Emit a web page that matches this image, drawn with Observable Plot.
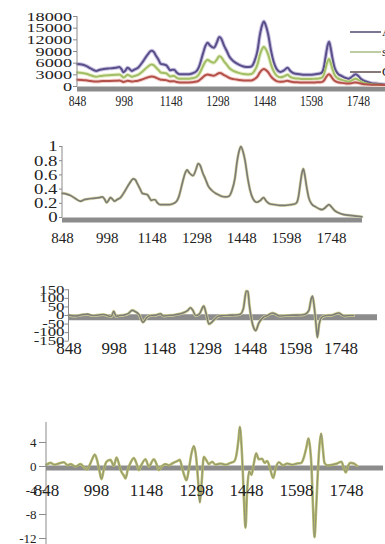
<!DOCTYPE html>
<html><head><meta charset="utf-8">
<script src="https://cdn.jsdelivr.net/npm/d3@7"></script>
<script src="https://cdn.jsdelivr.net/npm/@observablehq/plot@0.6"></script>
<style>
html,body{margin:0;padding:0;background:#fff;}
#chart{position:relative;width:385px;height:544px;overflow:hidden;background:#fff;}
#chart svg{position:absolute;left:0;}
</style></head><body><div id="chart"></div>
<script>
// ---- data ----
const wavenumber = [848,862,875,890,908,920,932,950,970,982,990,995,1002,1008,1015,1022,1030,1042,1058,1072,1085,1092,1098,1108,1115,1125,1132,1140,1145,1152,1158,1165,1175,1190,1205,1215,1230,1237,1250,1258,1265,1272,1285,1295,1302,1308,1318,1326,1335,1348,1365,1380,1395,1405,1415,1425,1432,1440,1445,1452,1459,1468,1476,1486,1498,1510,1521,1530,1543,1560,1575,1593,1610,1625,1632,1638,1643,1650,1654,1658,1665,1672,1682,1695,1708,1716,1725,1735,1740,1748,1758,1770,1790,1810,1830,1850];
const seriesA = [5810,5650,5320,4660,4000,4330,4490,4660,4820,4990,4330,3670,4160,4820,4490,4000,4330,4820,6470,8120,9190,8950,8120,6800,5810,5650,5480,4660,4160,4330,4330,3670,3170,3170,3170,3340,4000,4990,8450,10430,11260,10600,9940,11420,12740,12410,10430,9190,7630,6470,5650,5150,4990,5150,6470,9280,13070,15880,16700,15550,13400,9280,6470,4490,3750,4160,4820,4000,3340,3170,3010,3010,3170,3340,3670,5150,7630,10760,11500,10430,7300,4820,3340,2680,2180,2020,2350,3010,3170,2680,1850,1360,860,700,530,370];
const seriesB = [3600,3500,3300,2900,2500,2700,2800,2900,3000,3100,2700,2300,2600,3000,2800,2500,2700,3000,4000,5000,5650,5500,5000,4200,3600,3500,3400,2900,2600,2700,2700,2300,2000,2000,2000,2100,2500,3100,5200,6400,6900,6500,6100,7000,7800,7600,6400,5650,4700,4000,3500,3200,3100,3200,4000,5700,8000,9700,10200,9500,8200,5700,4000,2800,2350,2600,3000,2500,2100,2000,1900,1900,2000,2100,2300,3200,4700,6600,7050,6400,4500,3000,2100,1700,1400,1300,1500,1900,2000,1700,1200,900,600,500,400,300];
const seriesC = [1730,1690,1600,1430,1270,1350,1390,1430,1480,1520,1350,1180,1310,1480,1390,1270,1350,1480,1900,2320,2590,2530,2320,1980,1730,1690,1640,1430,1310,1350,1350,1180,1060,1060,1060,1100,1270,1520,2400,2900,3110,2950,2780,3160,3490,3410,2900,2590,2190,1900,1690,1560,1520,1560,1900,2610,3580,4290,4500,4210,3660,2610,1900,1390,1200,1310,1480,1270,1100,1060,1010,1010,1060,1100,1180,1560,2190,2990,3180,2900,2110,1480,1100,930,800,760,850,1010,1060,930,720,590,470,430,380,340];
const normalized = [0.34,0.33,0.31,0.27,0.23,0.25,0.26,0.27,0.28,0.29,0.25,0.21,0.24,0.28,0.26,0.23,0.25,0.28,0.38,0.48,0.545,0.53,0.48,0.40,0.34,0.33,0.32,0.27,0.24,0.25,0.25,0.21,0.18,0.18,0.18,0.19,0.23,0.29,0.50,0.62,0.67,0.63,0.59,0.68,0.76,0.74,0.62,0.545,0.45,0.38,0.33,0.30,0.29,0.30,0.38,0.55,0.78,0.95,1.00,0.93,0.80,0.55,0.38,0.26,0.215,0.24,0.28,0.23,0.19,0.18,0.17,0.17,0.18,0.19,0.21,0.30,0.45,0.64,0.685,0.62,0.43,0.28,0.19,0.15,0.12,0.11,0.13,0.17,0.18,0.15,0.10,0.07,0.04,0.03,0.02,0.01];
const d1Wavenumber = [848,870,890,909,925,945,962,975,988,996,1004,1015,1030,1045,1057,1068,1080,1093,1105,1118,1135,1151,1160,1175,1195,1210,1225,1240,1250,1258,1267,1280,1294,1302,1311,1320,1330,1342,1360,1380,1400,1415,1425,1435,1440,1445,1452,1460,1466,1476,1490,1505,1521,1532,1545,1565,1590,1615,1630,1642,1650,1654,1660,1666,1670,1676,1685,1700,1720,1741,1750,1760,1775,1790];
const firstDerivative = [2,-3,4,8,0,3,6,0,-6,25,-5,0,3,12,30,22,5,-40,-12,0,2,10,-3,0,3,8,15,28,45,30,0,10,55,10,-50,-40,-22,-5,0,2,3,8,40,143,140,60,-23,-75,-88,-45,-12,0,15,8,-3,0,2,3,8,30,100,113,45,-60,-128,-50,-10,0,3,15,5,-3,0,0];
const d2Wavenumber = [848,860,872,885,900,912,920,935,950,962,970,978,985,993,1000,1006,1013,1020,1028,1040,1050,1058,1066,1072,1080,1085,1092,1100,1110,1118,1125,1133,1145,1155,1170,1178,1185,1193,1205,1215,1225,1240,1248,1255,1262,1268,1275,1283,1290,1297,1303,1308,1313,1320,1328,1335,1345,1355,1370,1385,1400,1410,1418,1424,1428,1433,1437,1441,1445,1450,1456,1463,1470,1477,1485,1495,1502,1510,1518,1528,1536,1545,1558,1570,1585,1600,1612,1620,1627,1634,1639,1643,1647,1652,1657,1662,1667,1672,1677,1682,1690,1705,1720,1733,1740,1746,1752,1760,1770,1780];
const secondDerivative = [0.3,0.6,0.3,0.5,0.7,0.2,0.4,0.0,0.4,-0.2,-0.5,0.3,1.2,2.0,1.0,-0.5,-2.1,-0.5,0.8,1.1,0.1,1.5,0.3,-0.8,-1.5,-2.0,-0.5,0.6,1.4,0.5,-0.6,0.3,1.2,0.0,1.2,0.4,-0.6,0.0,0.4,0.2,0.5,0.9,1.1,-0.3,-1.6,-2.3,-0.5,2.2,3.4,1.5,-2.5,-6.0,-3.0,1.6,1.0,0.4,0.8,0.3,0.5,0.3,0.6,0.8,2.0,4.5,6.6,3.5,-1.0,-6.5,-10.2,-4.0,-0.8,-1.4,0.5,2.2,1.2,1.3,0.6,0.9,-0.2,-1.9,-0.2,0.7,0.2,0.5,0.3,0.5,0.6,1.5,3.0,4.7,3.0,0.0,-6.0,-11.8,-7.0,-1.0,3.5,5.5,3.0,0.6,0.2,0.3,0.5,0.8,-0.3,-1.0,0.0,0.6,0.5,0.1];
const xTicks = [848, 998, 1148, 1298, 1448, 1598, 1748];
const yTicks1 = [0, 3000, 6000, 9000, 12000, 15000, 18000];
const yTicks2 = [0, 0.2, 0.4, 0.6, 0.8, 1];
const yTicks3 = [-150, -100, -50, 0, 50, 100, 150];
const yTicks4 = [-12, -8, -4, 0, 4];
const legendNames = ["Average", "sd", "CV"];
const seriesColors = ["#5b4f8a", "#a2be66", "#b4504a"];
const legendColors = ["#4e4a6e", "#a9bb84", "#5e4c4c"];

const FONT = "'Liberation Serif','Times New Roman',serif";
const chart = document.getElementById("chart");

function squeeze(svg, anchor, s) {
  if (s === 1) return;
  svg.querySelectorAll("text").forEach(t => {
    const g = t.closest("[text-anchor]");
    const a = t.getAttribute("text-anchor") || (g ? g.getAttribute("text-anchor") : "start");
    if (a !== anchor) return;
    const tr = t.getAttribute("transform") || "";
    const m = /translate\(\s*([-\d.e]+)[\s,]+([-\d.e]+)\s*\)/.exec(tr);
    const ax = (m ? +m[1] : 0) + (+t.getAttribute("x") || 0);
    t.setAttribute("transform", `translate(${ax},0) scale(${s},1) translate(${-ax},0) ${tr}`);
  });
}

function panel(p) {
  const svg = Plot.plot({
    width: 385, height: p.height,
    marginLeft: p.ml, marginRight: p.mr, marginTop: p.mt, marginBottom: p.mb,
    x: {domain: p.xDomain, axis: null},
    y: {domain: p.yDomain},
    style: {fontFamily: FONT, color: "#222", background: "transparent", overflow: "visible"},
    marks: [
      Plot.ruleY([0], {stroke: "#8c8c8c", strokeWidth: p.bandW, dy: p.bandDy}),
      ...p.marks,
      Plot.ruleX([p.xDomain[0]], {stroke: "#8a8a8a", strokeWidth: 1, dx: -0.5}),
      Plot.axisY({ticks: p.yTicks, tickSize: p.tickSize, tickPadding: p.tickPadding, tickFormat: d => String(d), fontSize: p.yFont, stroke: "#8a8a8a", fill: "#222", label: null}),
      Plot.text(xTicks, {x: d => d, text: d => String(d), frameAnchor: "bottom", dy: p.xDy, lineAnchor: "middle", fontSize: p.xFont, fill: "#222"})
    ]
  });
  svg.style.top = p.top + "px";
  svg.style.position = "absolute";
  squeeze(svg, "end", p.ySq);
  squeeze(svg, "middle", p.xSq);
  chart.appendChild(svg);
}

const spec = wavenumber.map((w, i) => ({w, a: seriesA[i], b: seriesB[i], c: seriesC[i], n: normalized[i]}));
const d1 = d1Wavenumber.map((w, i) => ({w, v: firstDerivative[i]}));
const d2 = d2Wavenumber.map((w, i) => ({w, v: secondDerivative[i]}));

// Panel 1: raw spectra
panel({
  top: 0, height: 110, ml: 77, mr: 0, mt: 16, mb: 24,
  xDomain: [848, 1835], yDomain: [0, 18000], bandW: 5, bandDy: 2.5,
  yTicks: yTicks1, tickSize: 4, tickPadding: 1.5, yFont: 13.5, ySq: 1.35,
  xFont: 14.5, xSq: 0.8, xDy: 15,
  marks: [
    Plot.line(spec, {x: "w", y: "a", stroke: "#c9c3e3", strokeWidth: 4, curve: "monotone-x"}),
    Plot.line(spec, {x: "w", y: "b", stroke: "#e6eec8", strokeWidth: 4, curve: "monotone-x"}),
    Plot.line(spec, {x: "w", y: "c", stroke: "#f3cfcb", strokeWidth: 4, curve: "monotone-x"}),
    Plot.line(spec, {x: "w", y: "a", stroke: seriesColors[0], strokeWidth: 2, curve: "monotone-x"}),
    Plot.line(spec, {x: "w", y: "b", stroke: seriesColors[1], strokeWidth: 2, curve: "monotone-x"}),
    Plot.line(spec, {x: "w", y: "c", stroke: seriesColors[2], strokeWidth: 2, curve: "monotone-x"})
  ]
});

// Panel 2: normalized
panel({
  top: 130, height: 125, ml: 62, mr: 23, mt: 16, mb: 38,
  xDomain: [848, 1852], yDomain: [0, 1], bandW: 5, bandDy: 2.5,
  yTicks: yTicks2, tickSize: 3, tickPadding: 2, yFont: 15, ySq: 1.25,
  xFont: 15, xSq: 1, xDy: 21,
  marks: [
    Plot.line(spec, {x: "w", y: "n", stroke: "#dedbb0", strokeWidth: 3, curve: "monotone-x"}),
    Plot.line(spec, {x: "w", y: "n", stroke: "#7c7c76", strokeWidth: 1.7, curve: "monotone-x"})
  ]
});

// Panel 3: first derivative
panel({
  top: 270, height: 90, ml: 68.5, mr: 8, mt: 19.3, mb: 19.3,
  xDomain: [848, 1869], yDomain: [-150, 150], bandW: 6, bandDy: 1.7,
  yTicks: yTicks3, tickSize: 4, tickPadding: 0.5, yFont: 12, ySq: 1.4,
  xFont: 17, xSq: 1, xDy: 7.5,
  marks: [
    Plot.line(d1, {x: "w", y: "v", stroke: "#d6d59a", strokeWidth: 3, curve: "monotone-x"}),
    Plot.line(d1, {x: "w", y: "v", stroke: "#7d7d77", strokeWidth: 1.6, curve: "monotone-x"})
  ]
});

// Panel 4: second derivative
panel({
  top: 400, height: 144, ml: 46, mr: 2, mt: 22, mb: 0,
  xDomain: [848, 1859], yDomain: [-13, 7.33], bandW: 5, bandDy: 1.5,
  yTicks: yTicks4, tickSize: 7, tickPadding: 3, yFont: 13, ySq: 1,
  xFont: 17, xSq: 1, xDy: -54,
  marks: [
    Plot.line(d2, {x: "w", y: "v", stroke: "#b9bd6a", strokeWidth: 2.6, curve: "monotone-x"}),
    Plot.line(d2, {x: "w", y: "v", stroke: "#8d9078", strokeWidth: 1, curve: "monotone-x"})
  ]
});

// Legend for panel 1 (clipped at the right edge like the reference)
const leg = d3.create("svg").attr("width", 385).attr("height", 90)
  .style("position", "absolute").style("top", "0px").style("left", "0px")
  .style("font-family", FONT).style("font-size", "13px");
legendNames.forEach((name, i) => {
  const y = 32 + i * 20;
  leg.append("line").attr("x1", 350).attr("x2", 381).attr("y1", y).attr("y2", y)
    .attr("stroke", legendColors[i]).attr("stroke-width", 1.5);
  leg.append("text").attr("x", 382).attr("y", y + 4).attr("fill", "#222").text(name);
});
chart.appendChild(leg.node());
</script>
</body></html>
